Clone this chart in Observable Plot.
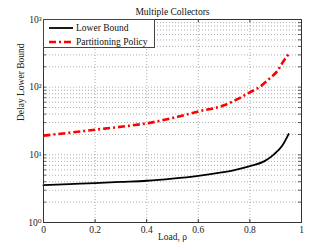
<!DOCTYPE html>
<html><head><meta charset="utf-8">
<script src="https://cdn.jsdelivr.net/npm/d3@7"></script>
<script src="https://cdn.jsdelivr.net/npm/@observablehq/plot@0.6"></script>
<style>
body{margin:0;background:#fff;}
#wrap{position:relative;width:332px;height:250px;font-family:"Liberation Serif","Times New Roman",Times,"DejaVu Serif",serif;}
#legend{position:absolute;left:43px;top:19px;width:112px;height:29px;background:#fff;border:1px solid #444;box-sizing:border-box;font-size:9.5px;color:#111;}
#legend .row{position:absolute;left:5px;display:flex;align-items:center;height:13px;white-space:nowrap;}
#legend svg{margin-right:3px;flex:none;}
</style></head>
<body><div id="wrap"><div id="chart"></div>
<div id="legend"></div></div>
<script>
const title = "Multiple Collectors";
const xLabel = "Load, ρ";
const yLabel = "Delay Lower Bound";
const seriesNames = ["Lower Bound", "Partitioning Policy"];
const lowerX = [0, 0.1, 0.2, 0.3, 0.4, 0.5, 0.6, 0.69, 0.74, 0.8, 0.855, 0.89, 0.925, 0.95];
const lowerY = [3.57, 3.7, 3.83, 3.98, 4.14, 4.45, 4.9, 5.5, 5.95, 6.8, 8.0, 9.9, 13.6, 20.3];
const partX = [0, 0.1, 0.2, 0.3, 0.4, 0.5, 0.6, 0.7, 0.76, 0.8, 0.84, 0.87, 0.905, 0.93, 0.95];
const partY = [19.2, 21.2, 23.5, 26.0, 29.2, 35, 43.8, 54, 69, 84, 102, 128, 171, 241, 309];
const xTicks = [0, 0.2, 0.4, 0.6, 0.8, 1];
const xTickLabels = ["0", "0.2", "0.4", "0.6", "0.8", "1"];
const yTicks = [1, 10, 100, 1000];
const yTickLabels = ["10⁰", "10¹", "10²", "10³"];
const yMinor = [2,3,4,5,6,7,8,9,20,30,40,50,60,70,80,90,200,300,400,500,600,700,800,900];

const lower = lowerX.map((x,i)=>({x, y: lowerY[i]}));
const part = partX.map((x,i)=>({x, y: partY[i]}));
const redDash = "7,3,2,3";
const serifFont = '"Liberation Serif", "Times New Roman", Times, "DejaVu Serif", serif';

const chart = Plot.plot({
  width: 332, height: 250,
  marginLeft: 43, marginRight: 31, marginTop: 19, marginBottom: 28,
  style: {fontFamily: serifFont, fontSize: "9.5px", color: "#222", background: "#fff"},
  x: {domain: [0, 1]},
  y: {type: "log", domain: [1, 1000]},
  marks: [
    Plot.gridX([0.2, 0.4, 0.6, 0.8], {stroke: "#999", strokeOpacity: 0.8, strokeDasharray: "1,2"}),
    Plot.gridY([...yMinor, 10, 100], {stroke: "#999", strokeOpacity: 0.8, strokeDasharray: "1,2"}),
    Plot.axisX(xTicks, {tickSize: 0, tickPadding: 4, tickFormat: d => xTickLabels[xTicks.indexOf(d)], label: null, fontSize: 9.5, fontFamily: serifFont}),
    Plot.axisY(yTicks, {tickSize: 0, tickPadding: 2, tickFormat: d => yTickLabels[yTicks.indexOf(d)], label: null, fontSize: 9.5, fontFamily: serifFont}),
    Plot.tickX(xTicks, {x: d=>d, insetTop: 200, stroke: "#333"}),
    Plot.tickX(xTicks, {x: d=>d, insetBottom: 200, stroke: "#333"}),
    Plot.tickY([...yTicks, ...yMinor], {y: d=>d, insetRight: 255, stroke: "#333", strokeWidth: 0.8}),
    Plot.tickY([...yTicks, ...yMinor], {y: d=>d, insetLeft: 255, stroke: "#333", strokeWidth: 0.8}),
    Plot.text([xLabel], {frameAnchor: "bottom", dy: 17, fontSize: 9.5, fill: "#222", fontFamily: serifFont}),
    Plot.text([yLabel], {frameAnchor: "left", dx: -23, rotate: -90, fontSize: 9.5, fill: "#222", fontFamily: serifFont}),
    Plot.text([title], {frameAnchor: "top", dy: -11, fontSize: 9.5, fill: "#111", fontFamily: serifFont}),
    Plot.line(lower, {x: "x", y: "y", stroke: "#000", strokeWidth: 1.8, curve: "monotone-x"}),
    Plot.line(part, {x: "x", y: "y", stroke: "#ff0000", strokeWidth: 2.6, strokeDasharray: redDash, strokeLinecap: "butt", curve: "monotone-x"}),
    Plot.frame({stroke: "#333", strokeWidth: 1})
  ]
});
document.getElementById("chart").appendChild(chart);

const legend = document.getElementById("legend");
const styles = [{stroke:"#000", w:1.8, dash:""}, {stroke:"#ff0000", w:2.6, dash:redDash}];
seriesNames.forEach((name, i) => {
  const row = document.createElement("div");
  row.className = "row";
  row.style.top = (1.5 + i*14) + "px";
  row.innerHTML = `<svg width="24" height="6"><line x1="0" y1="3" x2="24" y2="3" stroke="${styles[i].stroke}" stroke-width="${styles[i].w}" stroke-dasharray="${styles[i].dash}"/></svg><span>${name}</span>`;
  legend.appendChild(row);
});
</script></body></html>
